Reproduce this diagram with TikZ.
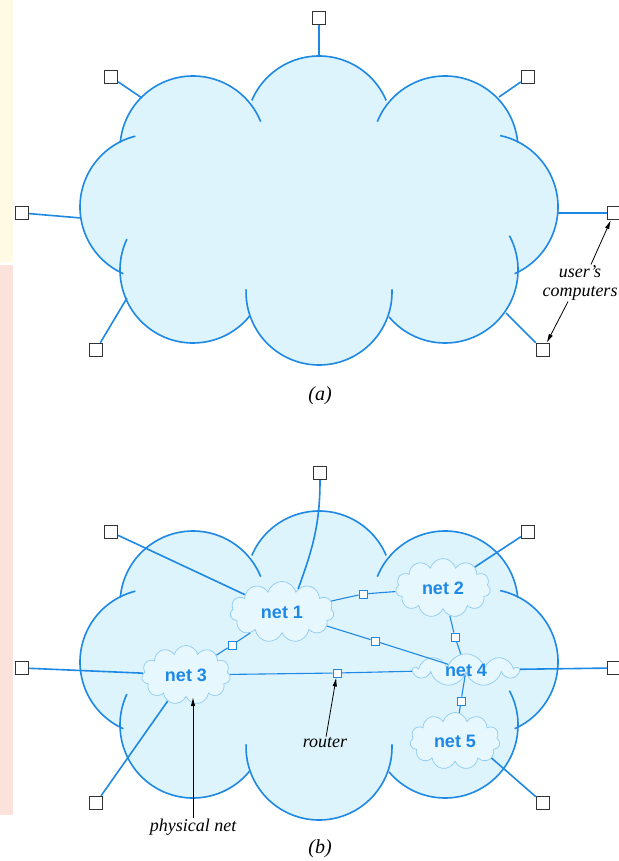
\documentclass[tikz,border=0pt]{standalone}
\usepackage{fontspec}
\setmainfont{Liberation Serif}
\setsansfont{Liberation Sans}
\usetikzlibrary{arrows.meta}
\usetikzlibrary{shapes.symbols}
\definecolor{netblue}{HTML}{1E88E5}
\definecolor{cloudfill}{HTML}{DDF4FC}
\definecolor{subline}{HTML}{8FCBF2}
\definecolor{subfill}{HTML}{E6F7FD}
\definecolor{stripyellow}{HTML}{FFFAE3}
\definecolor{strippink}{HTML}{FBE3DB}
\tikzset{
  lobe/.style={
    draw=netblue,
    line width=1.6pt,
  },
  pc/.style={
    draw=black!80,
    fill=white,
    rectangle,
    line width=1.3pt,
    minimum size=13pt,
    inner sep=0,
  },
  router/.style={
    draw=netblue,
    fill=white,
    rectangle,
    line width=0.9pt,
    minimum size=8pt,
    inner sep=0,
  },
  subnet/.style={
    cloud,
    cloud puffs=11,
    cloud ignores aspect,
    draw=subline,
    fill=subfill,
    line width=0.7pt,
    text=netblue,
    inner sep=0,
    node font=\sffamily\bfseries\fontsize{18}{18}\selectfont,
  },
  link/.style={
    draw=netblue,
    line width=1.6pt,
  },
  hop/.style={
    draw=netblue,
    line width=1.1pt,
  },
  pointer/.style={
    draw,
    >={Latex[length=9pt,width=4.5pt]},
    ->,
    line width=0.8pt,
  },
  caption/.style={
    node font=\itshape\fontsize{18}{19}\selectfont,
    align=center,
    inner sep=1pt,
  },
  sublabel/.style={
    caption,
    node font=\itshape\fontsize{20}{22}\selectfont,
  },
}
\def\bigcloud{
  \fill [cloudfill] (193,149) -- (319,129) -- (445,149) -- (485,207)
    -- (445,270) -- (319,292) -- (193,270) -- (153,207) -- cycle;
  \foreach \cx/\cy in {193/149,319/129,445/149,485/207,445/270,319/292,193/270,153/207}
    \fill [cloudfill] (\cx,\cy) circle [radius=73];
  \foreach \cx/\cy/\sa/\ea in {193/149/-175/-22, 319/129/-157/-23, 445/149/-158/-5,
      485/207/-78/66, 445/270/-28/140, 319/292/-2/182, 193/270/39/205, 153/207/-246/-104}
    \draw [lobe] (\cx,\cy) ++(\sa:73) arc [start angle=\sa, end angle=\ea, radius=73];
}

\begin{document}
\begin{tikzpicture}[x=1pt,y=-1pt]
  \useasboundingbox [fill=white] (0,0) rectangle (618,861);
  \fill [stripyellow] (0,0) rectangle (13,262);
  \fill [strippink] (0,265) rectangle (13,815);

  \bigcloud

  \coordinate (rim top a)    at (319,56);
  \coordinate (rim nw a)     at (142,98);
  \coordinate (rim ne a)     at (499,97);
  \coordinate (rim west a)   at (81,218);
  \coordinate (rim east a)   at (558,213);
  \coordinate (rim sw a)     at (127,298);
  \coordinate (rim se a)     at (506,313);

  \node (pc top a)  [pc] at (319,18)  {};
  \node (pc nw a)   [pc] at (111,77)  {};
  \node (pc ne a)   [pc] at (528,77)  {};
  \node (pc west a) [pc] at (22,213)  {};
  \node (pc east a) [pc] at (614,213) {};
  \node (pc sw a)   [pc] at (96,350)  {};
  \node (pc se a)   [pc] at (543,350) {};

  \path [link] (pc top a) -- (rim top a);
  \path [link] (pc nw a) -- (rim nw a);
  \path [link] (pc ne a) -- (rim ne a);
  \path [link] (pc west a) -- (rim west a);
  \path [link] (pc east a) -- (rim east a);
  \path [link] (pc sw a) -- (rim sw a);
  \path [link] (pc se a) -- (rim se a);

  \node (users) [caption] at (580,283) {user's\\computers};
  \path [pointer] ([xshift=11pt]users.north) -- (pc east a);
  \path [pointer] ([xshift=-12pt]users.south) -- (pc se a);

  \node (label a) [sublabel] at (320,396) {(a)};

  \begin{scope}[shift={(0,455)}]
    \bigcloud
  \end{scope}

  \node (net 1) [subnet,minimum width=104pt,minimum height=61pt] at (282,612) {net 1};
  \node (net 2) [subnet,minimum width=95pt,minimum height=59pt]  at (443,588) {net 2};
  \node (net 3) [subnet,minimum width=89pt,minimum height=59pt]  at (186,675) {net 3};
  \node (net 4) [subnet,cloud puffs=9,minimum width=104pt,minimum height=26pt] at (466,670) {net 4};
  \node (net 5) [subnet,minimum width=90pt,minimum height=57pt]  at (455,741) {net 5};

  \node (r12) [router] at (363,594) {};
  \node (r13) [router] at (232,645) {};
  \node (r14) [router] at (375,641) {};
  \node (r24) [router] at (455,637) {};
  \node (r34) [router] at (337,673) {};
  \node (r45) [router] at (461,701) {};

  \path [hop] (net 1) -- (r12) -- (net 2);
  \path [hop] (net 3) -- (r13) -- (net 1);
  \path [hop] (net 1) -- (r14) -- (net 4);
  \path [hop] (net 2) -- (r24) -- (net 4);
  \path [hop] (net 3) -- (r34) -- (net 4);
  \path [hop] (net 4) -- (r45) -- (net 5);

  \node (pc top b)  [pc] at (320,473) {};
  \node (pc nw b)   [pc] at (111,532) {};
  \node (pc ne b)   [pc] at (528,532) {};
  \node (pc west b) [pc] at (22,668)  {};
  \node (pc east b) [pc] at (614,668) {};
  \node (pc sw b)   [pc] at (96,803)  {};
  \node (pc se b)   [pc] at (543,803) {};

  \path [link] (pc top b) to [out=-90,in=70] (net 1.55);
  \path [link] (pc nw b) -- (net 1);
  \path [link] (pc ne b) -- (net 2);
  \path [link] (pc west b) -- (net 3);
  \path [link] (pc east b) -- (net 4);
  \path [link] (pc sw b) -- (net 3);
  \path [link] (pc se b) -- (net 5.-25);

  \node (router label) [caption] at (325,743) {router};
  \path [pointer] (router label) -- (r34);

  \node (physical) [caption] at (193,827) {physical net};
  \path [pointer] (physical) -- (physical |- net 3.south);

  \node (label b) [sublabel] at (320,849) {(b)};
\end{tikzpicture}
\end{document}
